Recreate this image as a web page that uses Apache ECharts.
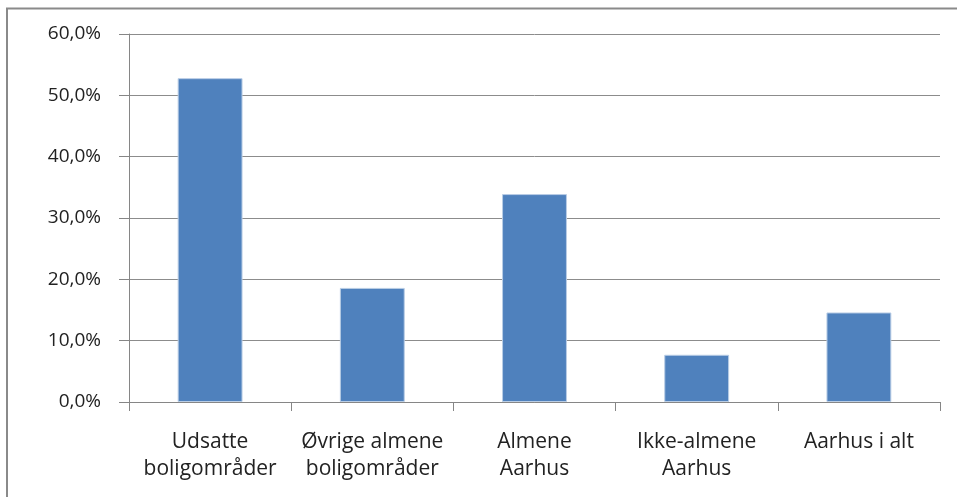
<!DOCTYPE html>
<html>
<head>
<meta charset="utf-8">
<script src="https://cdn.jsdelivr.net/npm/echarts@6/dist/echarts.min.js"></script>
<style>
html,body{margin:0;padding:0;background:#fff;}
#chart{width:957px;height:497px;}
</style>
</head>
<body>
<div id="chart"></div>
<script>
const categories = ["Udsatte\nboligområder", "Øvrige almene\nboligområder", "Almene\nAarhus", "Ikke-almene\nAarhus", "Aarhus i alt"];
const values = [52.8, 18.6, 33.9, 7.7, 14.6];
const yTicks = [0, 10, 20, 30, 40, 50, 60];

const chart = echarts.init(document.getElementById('chart'));
chart.setOption({
  animation: false,
  backgroundColor: '#ffffff',
  grid: {left: 129, right: 17, top: 34, bottom: 95, containLabel: false},
  graphic: [{
    type: 'rect',
    shape: {x: 7, y: 8.5, width: 1100, height: 700},
    style: {fill: 'none', stroke: '#8a8a8a', lineWidth: 2},
    silent: true
  }],
  xAxis: {
    type: 'category',
    data: categories,
    axisLine: {lineStyle: {color: '#868686', width: 1}},
    axisTick: {show: true, length: 9, lineStyle: {color: '#868686'}},
    axisLabel: {
      color: '#222', fontFamily: '"Open Sans", sans-serif', fontSize: 21,
      lineHeight: 27, margin: 27, interval: 0
    }
  },
  yAxis: {
    type: 'value',
    min: yTicks[0], max: yTicks[yTicks.length - 1], interval: 10,
    axisLine: {show: true, lineStyle: {color: '#868686', width: 1}},
    axisTick: {show: true, length: 10, lineStyle: {color: '#868686'}},
    splitLine: {show: true, lineStyle: {color: '#8c8c8c', width: 1}},
    axisLabel: {
      color: '#222', fontFamily: '"Open Sans", sans-serif', fontSize: 19, margin: 28,
      formatter: v => v.toFixed(1).replace('.', ',') + '%'
    }
  },
  series: [{
    type: 'bar',
    data: values,
    barWidth: '40%',
    itemStyle: {color: '#4F81BD', borderColor: '#B9CDE5', borderWidth: 1}
  }]
});
</script>
</body>
</html>
